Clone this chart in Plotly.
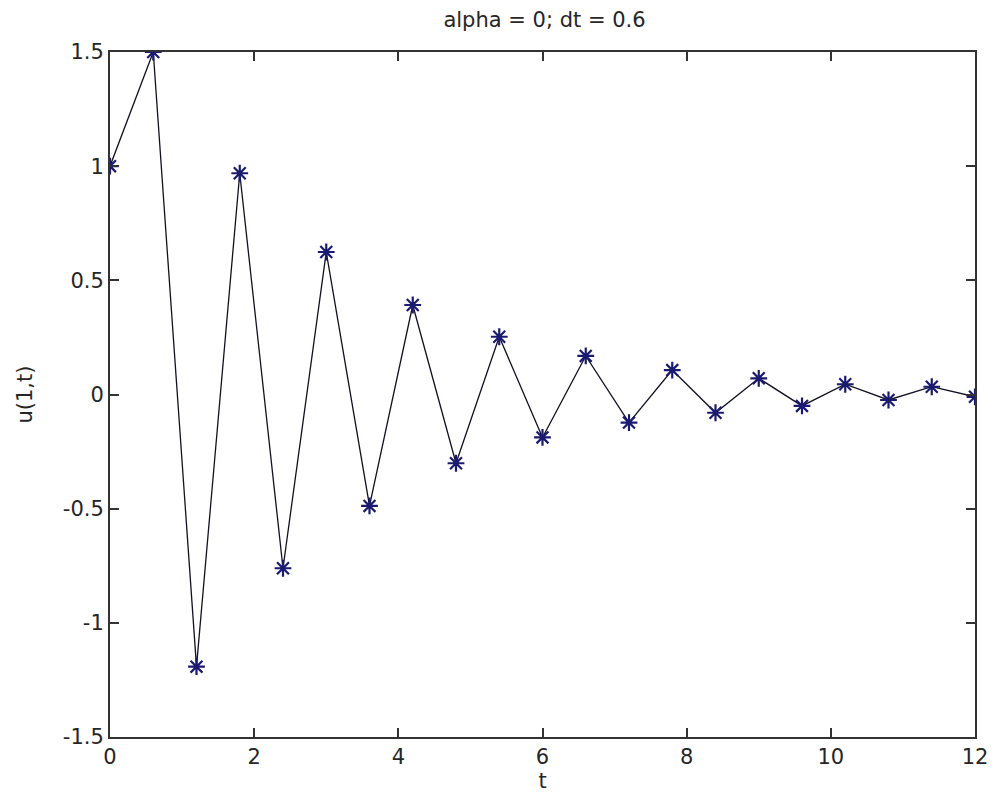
import plotly.graph_objects as go

t = [0.0, 0.6, 1.2, 1.8, 2.4, 3.0, 3.6, 4.2, 4.8, 5.4, 6.0, 6.6, 7.2, 7.8, 8.4, 9.0, 9.6, 10.2, 10.8, 11.4, 12.0]
u = [1.0, 1.5, -1.192, 0.969, -0.761, 0.624, -0.488, 0.392, -0.301, 0.253, -0.188, 0.169, -0.123, 0.107, -0.080, 0.071, -0.050, 0.045, -0.024, 0.034, -0.010]

x_ticks = [0, 2, 4, 6, 8, 10, 12]
y_ticks = [-1.5, -1, -0.5, 0, 0.5, 1, 1.5]
y_ticktext = ["-1.5", "-1", "-0.5", "0", "0.5", "1", "1.5"]

FONT = "DejaVu Sans"
TXT = "#262626"

fig = go.Figure()
fig.add_trace(go.Scatter(
    x=t, y=u, mode="lines+markers",
    line=dict(color="#111122", width=1.3),
    marker=dict(symbol="asterisk", size=14, color="#1a1a70",
                line=dict(color="#1a1a70", width=2.2)),
    showlegend=False,
))

axis_common = dict(
    showgrid=False, zeroline=False, showline=True, linecolor="#333333", linewidth=2,
    mirror="ticks", ticks="inside", ticklen=9, tickwidth=1.5, tickcolor="#333333",
    tickfont=dict(family=FONT, size=21, color=TXT),
)

fig.update_xaxes(range=[0, 12], tickvals=x_ticks, ticktext=[str(v) for v in x_ticks],
                 title=dict(text="t", font=dict(family=FONT, size=21, color=TXT), standoff=2),
                 **axis_common)
fig.update_yaxes(range=[-1.5, 1.5], tickvals=y_ticks, ticktext=y_ticktext,
                 title=dict(text="u(1,t)", font=dict(family=FONT, size=21, color=TXT), standoff=24),
                 **axis_common)

fig.update_layout(
    width=1000, height=806,
    margin=dict(l=110, r=19, t=52, b=69, pad=0),
    paper_bgcolor="white", plot_bgcolor="white",
    title=dict(text="alpha = 0; dt = 0.6", x=0.5445, xanchor="center",
               y=1 - 20 / 806, yanchor="middle", yref="container",
               font=dict(family=FONT, size=21, color=TXT)),
)

fig.write_html("out.html", config={"displayModeBar": False},
               post_script="document.body.style.margin='0';")
